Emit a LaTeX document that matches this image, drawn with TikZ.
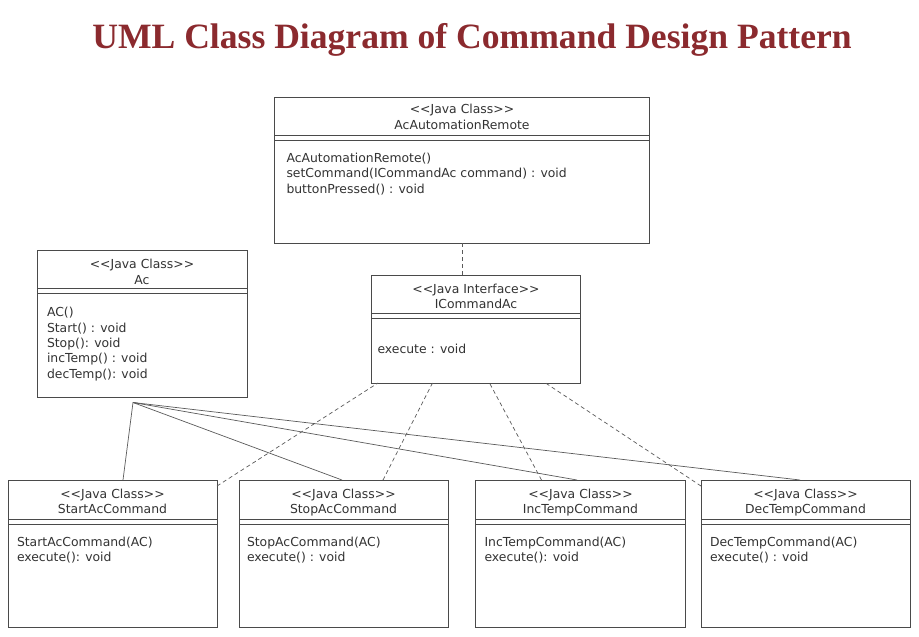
\documentclass[tikz,border=0pt]{standalone}
\usepackage{fontspec}
\setmainfont{Liberation Serif}
\newfontfamily\umlff{DejaVu Sans}
\usetikzlibrary{calc}
\definecolor{titlec}{HTML}{8B2A2E}
\definecolor{boxc}{HTML}{4A4A4A}
\definecolor{linec}{HTML}{5A5A5A}
\definecolor{txtc}{HTML}{333333}
\newcommand{\umlfont}{\umlff\fontsize{12.4}{15.3}\selectfont}
\tikzset{
  box/.style={draw=boxc, line width=0.9pt, inner sep=0pt, outer sep=0pt, anchor=north west, fill=white},
  sep/.style={draw=boxc, line width=0.8pt},
  txt/.style={font=\umlfont, text=txtc, inner sep=0pt, outer sep=0pt},
  hdr/.style={txt, align=center, anchor=north},
  body/.style={txt, align=left, anchor=north west},
  dep/.style={draw=linec, dash pattern=on 4pt off 3pt, line width=0.7pt},
  assoc/.style={draw=linec, line width=0.7pt},
}
\begin{document}
\begin{tikzpicture}[x=1pt,y=-1pt]
\useasboundingbox[fill=white] (0,0) rectangle (919,637);
% title
\node[font=\bfseries\fontsize{35.6}{42}\selectfont, text=titlec, inner sep=0pt] (title) at (472,40) {UML Class Diagram of Command Design Pattern};

% boxes
\node[box, minimum width=375pt, minimum height=146pt] (remote) at (274.5,97) {};
\node[box, minimum width=210pt, minimum height=147pt] (ac) at (37,250) {};
\node[box, minimum width=209pt, minimum height=108pt] (iface) at (371.5,275) {};
\node[box, minimum width=209pt, minimum height=147pt] (start) at (8,480) {};
\node[box, minimum width=209pt, minimum height=147pt] (stop) at (239,480) {};
\node[box, minimum width=210pt, minimum height=147pt] (inc) at (475.5,480) {};
\node[box, minimum width=209pt, minimum height=147pt] (dec) at (701,480) {};

% compartment separators
\foreach \b/\o in {remote/38, ac/38, iface/38, start/39, stop/39, inc/39, dec/39}{
  \draw[sep] ([yshift=-\o pt]\b.north west) -- ([yshift=-\o pt]\b.north east);
  \draw[sep] ([yshift=-\o pt-5pt]\b.north west) -- ([yshift=-\o pt-5pt]\b.north east);
}

% texts
\node[hdr] (remoteh) at ([yshift=-7.5pt]remote.north) {<<Java Class>>\\AcAutomationRemote};
\node[body] (remoteb) at ([xshift=12pt,yshift=-56pt]remote.north west) {AcAutomationRemote()\\setCommand(ICommandAc command) : void\\buttonPressed() : void};

\node[hdr] (ach) at ([yshift=-9.5pt]ac.north) {<<Java Class>>\\Ac};
\node[body] (acb) at ([xshift=10pt,yshift=-57.5pt]ac.north west) {AC()\\Start() : void\\Stop(): void\\incTemp() : void\\decTemp(): void};

\node[hdr] (ifaceh) at ([yshift=-9pt]iface.north) {<<Java Interface>>\\ICommandAc};
\node[body] (ifaceb) at ([xshift=6pt,yshift=-69pt]iface.north west) {execute : void};

\node[hdr] (starth) at ([yshift=-9pt]start.north) {<<Java Class>>\\StartAcCommand};
\node[body] (startb) at ([xshift=9pt,yshift=-57pt]start.north west) {StartAcCommand(AC)\\execute(): void};

\node[hdr] (stoph) at ([yshift=-9pt]stop.north) {<<Java Class>>\\StopAcCommand};
\node[body] (stopb) at ([xshift=8pt,yshift=-57pt]stop.north west) {StopAcCommand(AC)\\execute() : void};

\node[hdr] (inch) at ([yshift=-9pt]inc.north) {<<Java Class>>\\IncTempCommand};
\node[body] (incb) at ([xshift=9pt,yshift=-57pt]inc.north west) {IncTempCommand(AC)\\execute(): void};

\node[hdr] (dech) at ([yshift=-9pt]dec.north) {<<Java Class>>\\DecTempCommand};
\node[body] (decb) at ([xshift=9pt,yshift=-57pt]dec.north west) {DecTempCommand(AC)\\execute() : void};

% connectors
\draw[dep] (remote.south) -- (remote.south |- iface.north);
\draw[dep] ([yshift=-6pt]start.north east) -- ([xshift=6.5pt]iface.south west);
\draw[dep] ([xshift=144pt]stop.north west) -- ([xshift=61pt]iface.south west);
\draw[dep] ([xshift=66pt]inc.north west) -- ([xshift=118pt]iface.south west);
\draw[dep] ([yshift=-6pt]dec.north west) -- ([xshift=174pt]iface.south west);

\coordinate (hub) at (133,402.5);
\draw[assoc] (hub) -- ++(6,1);
\draw[assoc] (hub) -- ([xshift=115pt]start.north west);
\draw[assoc] (hub) -- ([xshift=103pt]stop.north west);
\draw[assoc] (hub) -- ([xshift=101.5pt]inc.north west);
\draw[assoc] (hub) -- ([xshift=99pt]dec.north west);
\end{tikzpicture}
\end{document}
